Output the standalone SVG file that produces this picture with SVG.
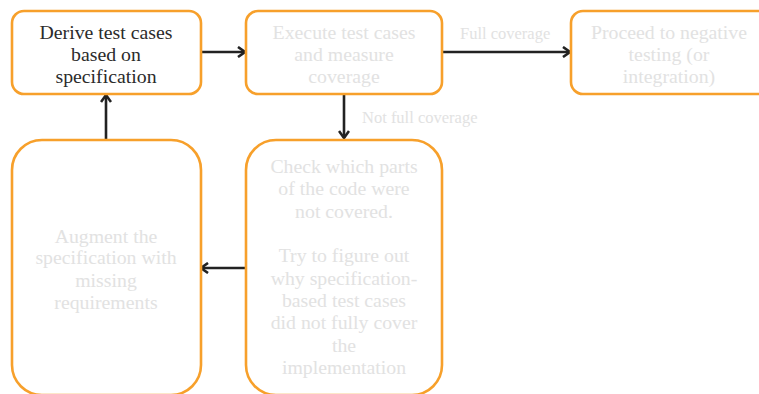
<svg xmlns="http://www.w3.org/2000/svg" width="759" height="394" viewBox="0 0 759 394">
  <style>
    .box { fill: #ffffff; stroke: #f7a02b; stroke-width: 2.6; }
    .t { font-family: "Liberation Serif", "DejaVu Serif", serif; font-size: 19.8px; text-anchor: middle; fill: #e2e2e2; }
    .t.dark { fill: #2b2b2b; }
    .lbl { font-family: "Liberation Serif", "DejaVu Serif", serif; font-size: 16.5px; fill: #e2e2e2; }
    .edge { stroke: #222222; stroke-width: 2.6; fill: none; marker-end: url(#chev); }
  </style>
  <defs>
    <marker id="chev" viewBox="0 0 12 12" refX="10" refY="6" markerWidth="12" markerHeight="12" markerUnits="userSpaceOnUse" orient="auto">
      <path d="M3,1 L10,6 L3,11" fill="none" stroke="#222222" stroke-width="2.6"/>
    </marker>
  </defs>

  <g id="connectors">
    <line class="edge" x1="200" y1="52" x2="245" y2="52"/>
    <line class="edge" x1="442" y1="52" x2="570" y2="52"/>
    <line class="edge" x1="344" y1="94" x2="344" y2="138"/>
    <line class="edge" x1="246" y1="268" x2="201" y2="268"/>
    <line class="edge" x1="106" y1="139" x2="106" y2="95"/>
    <text class="lbl" x="460" y="39">Full coverage</text>
    <text class="lbl" x="362" y="123">Not full coverage</text>
  </g>

  <g id="derive">
    <rect class="box" x="12" y="11" width="189" height="83" rx="12"/>
    <text class="t dark" x="106" y="39">Derive test cases</text>
    <text class="t dark" x="106" y="61">based on</text>
    <text class="t dark" x="106" y="83">specification</text>
  </g>

  <g id="execute">
    <rect class="box" x="246" y="11" width="196" height="83" rx="12"/>
    <text class="t" x="344" y="39">Execute test cases</text>
    <text class="t" x="344" y="61">and measure</text>
    <text class="t" x="344" y="83">coverage</text>
  </g>

  <g id="proceed">
    <rect class="box" x="571" y="11" width="200" height="83" rx="12"/>
    <text class="t" x="669" y="39">Proceed to negative</text>
    <text class="t" x="669" y="61">testing (or</text>
    <text class="t" x="669" y="83">integration)</text>
  </g>

  <g id="augment">
    <rect class="box" x="12" y="140" width="189" height="255" rx="30"/>
    <text class="t" x="106" y="243">Augment the</text>
    <text class="t" x="106" y="264">specification with</text>
    <text class="t" x="106" y="287">missing</text>
    <text class="t" x="106" y="309">requirements</text>
  </g>

  <g id="check">
    <rect class="box" x="246" y="140" width="196" height="255" rx="30"/>
    <text class="t" x="344" y="173">Check which parts</text>
    <text class="t" x="344" y="195">of the code were</text>
    <text class="t" x="344" y="218">not covered.</text>
    <text class="t" x="344" y="262">Try to figure out</text>
    <text class="t" x="344" y="285">why specification-</text>
    <text class="t" x="344" y="307">based test cases</text>
    <text class="t" x="344" y="329">did not fully cover</text>
    <text class="t" x="344" y="352">the</text>
    <text class="t" x="344" y="374">implementation</text>
  </g>
</svg>
